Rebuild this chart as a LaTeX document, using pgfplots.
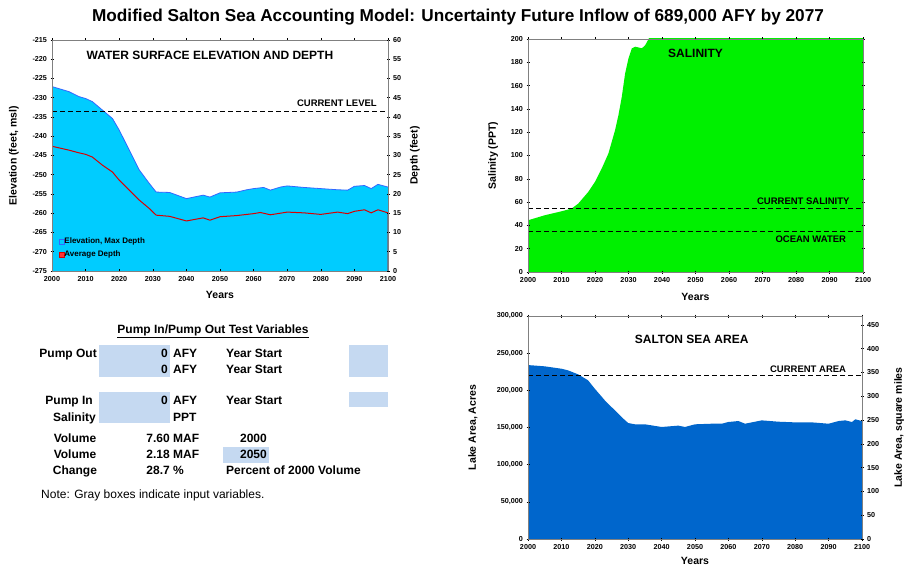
\documentclass[border=0pt]{standalone}
\usepackage{pgfplots}
\pgfplotsset{compat=1.18}
\usepackage{fontspec}
\setmainfont{Liberation Sans}
\definecolor{cyanfill}{RGB}{0,204,255}
\definecolor{edgeblue}{RGB}{51,102,255}
\definecolor{areablue}{RGB}{0,102,204}
\definecolor{salgreen}{RGB}{0,240,0}
\definecolor{inbox}{RGB}{197,217,241}
\definecolor{framegray}{RGB}{128,128,128}
\pgfplotsset{
  base/.style={
    scale only axis, anchor=south west, axis on top,
    xmin=2000, xmax=2100, xtick={2000,2010,...,2100},
    axis line style={draw=framegray, line width=0.8pt},
    tick style={draw=black, line width=0.5pt}, major tick length=3pt, tick align=center,
    tick label style={font=\fontsize{7.2}{8}\selectfont\bfseries},
    label style={font=\fontsize{10.5}{12}\selectfont\bfseries},
    /pgf/number format/assume math mode=true,
    xticklabel style={/pgf/number format/fixed, /pgf/number format/1000 sep={}},
    yticklabel style={/pgf/number format/fixed},
    scaled ticks=false,
  },
  dline/.style={black, line width=0.9pt, dash pattern=on 5pt off 3pt},
}
\begin{document}
\begin{tikzpicture}
\path[use as bounding box, fill=white] (0pt,0pt) rectangle (910pt,-569pt);
\node[font=\fontsize{17.2}{20}\selectfont\bfseries] at (458pt,-17pt) {Modified Salton Sea Accounting Model: Uncertainty Future Inflow of 689,000 AFY by 2077};

% ---------------- Elevation / depth ----------------
\begin{axis}[base, at={(52pt,-271pt)}, width=336pt, height=231pt,
  ymin=-275, ymax=-215, ytick={-275,-270,...,-215},
  axis y line*=left, 
  ylabel={Elevation (feet, msl)}, xlabel={Years},
  ylabel style={at={(axis description cs:-0.113,0.5)}, anchor=center},
  xlabel style={at={(axis description cs:0.5,-0.104)}, anchor=center},
  legend image code/.code={\draw[#1] (0pt,-2.5pt) rectangle (5pt,2.5pt);},
  legend style={at={(axis description cs:0.01,0.155)}, anchor=north west, draw=none, fill=none,
    font=\fontsize{8}{9}\selectfont\bfseries, nodes={inner sep=0.5pt}},
  legend style={/tikz/every even column/.append style={column sep=0pt}},
  legend style={row sep=5pt},
  legend cell align=left,
]
\addplot[fill=cyanfill, draw=none, forget plot] coordinates {
(2000,-275) (2000,-227.1) (2005,-228.4) (2008,-229.7) (2010,-230.2) (2012,-231.0) (2015,-233.2)
(2018,-235.4) (2020,-238.4) (2023,-243.6) (2026,-248.8) (2029,-252.3) (2031,-254.5) (2035,-254.6)
(2040,-256.2) (2045,-255.3) (2047,-255.8) (2050,-254.7) (2055,-254.5) (2058,-253.9) (2060,-253.6)
(2063,-253.3) (2065,-254.0) (2068,-253.2) (2070,-252.9) (2075,-253.3) (2080,-253.6) (2085,-253.9)
(2088,-254.0) (2090,-253.0) (2093,-252.8) (2095,-253.6) (2097,-252.5) (2100,-253.2) (2100,-275)} -- cycle;
\addplot[edgeblue, line width=0.8pt, forget plot] coordinates {
(2000,-227.1) (2005,-228.4) (2008,-229.7) (2010,-230.2) (2012,-231.0) (2015,-233.2)
(2018,-235.4) (2020,-238.4) (2023,-243.6) (2026,-248.8) (2029,-252.3) (2031,-254.5) (2035,-254.6)
(2040,-256.2) (2045,-255.3) (2047,-255.8) (2050,-254.7) (2055,-254.5) (2058,-253.9) (2060,-253.6)
(2063,-253.3) (2065,-254.0) (2068,-253.2) (2070,-252.9) (2075,-253.3) (2080,-253.6) (2085,-253.9)
(2088,-254.0) (2090,-253.0) (2093,-252.8) (2095,-253.6) (2097,-252.5) (2100,-253.2)};
\addplot[red!85!black, line width=1pt, forget plot] coordinates {
(2000,-242.6) (2005,-243.6) (2008,-244.3) (2010,-244.7) (2012,-245.4) (2015,-247.5) (2018,-249.3)
(2020,-251.4) (2023,-254.0) (2026,-256.6) (2029,-258.8) (2031,-260.5) (2035,-260.8) (2040,-262.0)
(2045,-261.2) (2047,-261.8) (2050,-260.9) (2055,-260.6) (2060,-260.1) (2062,-259.8) (2065,-260.4)
(2070,-259.7) (2075,-259.9) (2080,-260.3) (2085,-259.7) (2088,-260.1) (2090,-259.5) (2093,-259.1)
(2095,-259.9) (2097,-259.1) (2100,-259.9) (2100,-275)};
\addplot[dline, forget plot] coordinates {(2000,-233.6) (2100,-233.6)};
\addlegendimage{fill=cyanfill, draw=edgeblue}
\addlegendentry{Elevation, Max Depth}
\addlegendimage{fill=red!80, draw=red!85!black}
\addlegendentry{Average Depth}
\node[anchor=base east, font=\fontsize{9.5}{11}\selectfont\bfseries] at (axis cs:2097.7,-232.2) {CURRENT LEVEL};
\node[font=\fontsize{12}{14}\selectfont\bfseries] at (axis cs:2047,-218.9) {WATER SURFACE ELEVATION AND DEPTH};
\end{axis}
\begin{axis}[base, at={(52pt,-271pt)}, width=336pt, height=231pt,
  axis y line*=right, axis x line=none,
  ymin=0, ymax=60, ytick={0,5,...,60},
  ylabel={Depth (feet)},
  ylabel style={at={(axis description cs:1.08,0.5)}, anchor=center, rotate=0},
]
\addplot[draw=none] coordinates {(2000,0)};
\end{axis}

% ---------------- Salinity ----------------
\begin{axis}[base, at={(528pt,-272pt)}, width=335pt, height=233pt,
  ymin=0, ymax=200, ytick={0,20,...,200},
  ylabel={Salinity (PPT)}, xlabel={Years},
  ylabel style={at={(axis description cs:-0.104,0.5)}, anchor=center},
  xlabel style={at={(axis description cs:0.5,-0.107)}, anchor=center},
]
\addplot[fill=salgreen, draw=none] coordinates {
(2000,0) (2000,44.4) (2005,48.7) (2010,52.1) (2013,54.4) (2015,58.7) (2018,68.8) (2020,77.4)
(2022,88.8) (2024,101.7) (2026,121.8) (2027,134.7) (2028,150.4) (2029,170.5) (2030,183.4)
(2031,192.0) (2032,193.4) (2034,192.0) (2035,194.8) (2036,200) (2040,230) (2050,260)
(2060,280) (2070,295) (2080,305) (2090,315) (2100,325) (2100,0)} -- cycle;
\addplot[dline] coordinates {(2000,54.4) (2100,54.4)};
\addplot[dline] coordinates {(2000,35) (2100,35)};
\node[anchor=base east, font=\fontsize{9.5}{11}\selectfont\bfseries] at (axis cs:2097,58.2) {CURRENT SALINITY};
\node[anchor=base east, font=\fontsize{9.5}{11}\selectfont\bfseries] at (axis cs:2096,25.2) {OCEAN WATER};
\node[font=\fontsize{12}{14}\selectfont\bfseries] at (axis cs:2050,187.7) {SALINITY};
\end{axis}

% ---------------- Area ----------------
\begin{axis}[base, at={(528pt,-539pt)}, width=334pt, height=223pt,
  ymin=0, ymax=300000, ytick={0,50000,100000,150000,200000,250000,300000},
  axis y line*=left,
  yticklabel style={/pgf/number format/fixed, /pgf/number format/1000 sep={,}},
  ylabel={Lake Area, Acres}, xlabel={Years},
  ylabel style={at={(axis description cs:-0.165,0.5)}, anchor=center},
  xlabel style={at={(axis description cs:0.5,-0.097)}, anchor=center},
]
\addplot[fill=areablue, draw=none] coordinates {
(2000,0) (2000,234000) (2005,232300) (2010,229100) (2012,226900) (2015,221500) (2018,213400)
(2020,202200) (2023,186500) (2026,173100) (2028,164100) (2030,156000) (2032,154300) (2035,154300)
(2040,150700) (2045,152500) (2047,150700) (2050,154300) (2055,155100) (2058,155100) (2060,157400)
(2063,158700) (2065,155100) (2070,159600) (2075,157800) (2080,156900) (2085,156900) (2090,155100)
(2093,158700) (2095,159600) (2097,157400) (2098,161000) (2100,158700) (2100,0)} -- cycle;
\addplot[dline] coordinates {(2000,220000) (2100,220000)};
\node[anchor=base east, font=\fontsize{9.5}{11}\selectfont\bfseries] at (axis cs:2096.3,224650) {CURRENT AREA};
\node[font=\fontsize{12}{14}\selectfont\bfseries] at (axis cs:2049,268150) {SALTON SEA AREA};
\end{axis}
\begin{axis}[base, at={(528pt,-539pt)}, width=334pt, height=223pt,
  axis y line*=right, axis x line=none,
  ymin=0, ymax=468.75, ytick={0,50,...,450},
  ylabel={Lake Area, square miles},
  ylabel style={at={(axis description cs:1.111,0.5)}, anchor=center, rotate=0},
]
\addplot[draw=none] coordinates {(2000,0)};
\end{axis}

% ---------------- Table ----------------
\fill[inbox] (99pt,-345pt) rectangle (170pt,-377pt);
\fill[inbox] (349pt,-345pt) rectangle (388pt,-377pt);
\fill[inbox] (99pt,-392pt) rectangle (170pt,-423pt);
\fill[inbox] (349pt,-392pt) rectangle (388pt,-407pt);
\fill[inbox] (223pt,-447pt) rectangle (269pt,-463pt);
\begin{scope}[every node/.style={font=\fontsize{12}{14}\selectfont\bfseries, inner sep=0pt}]
\node[anchor=base] at (213pt,-333pt) {\underline{Pump In/Pump Out Test Variables}};
\node[anchor=base east] at (97pt,-357pt) {Pump Out};
\node[anchor=base east] at (168pt,-357pt) {0};
\node[anchor=base west] at (173pt,-357pt) {AFY};
\node[anchor=base west] at (226pt,-357pt) {Year Start};
\node[anchor=base east] at (168pt,-373pt) {0};
\node[anchor=base west] at (173pt,-373pt) {AFY};
\node[anchor=base west] at (226pt,-373pt) {Year Start};
\node[anchor=base east] at (93pt,-404pt) {Pump In};
\node[anchor=base east] at (168pt,-404pt) {0};
\node[anchor=base west] at (173pt,-404pt) {AFY};
\node[anchor=base west] at (226pt,-404pt) {Year Start};
\node[anchor=base east] at (96pt,-421pt) {Salinity};
\node[anchor=base west] at (173pt,-421pt) {PPT};
\node[anchor=base] at (75pt,-442pt) {Volume};
\node[anchor=base east] at (170pt,-442pt) {7.60};
\node[anchor=base west] at (173pt,-442pt) {MAF};
\node[anchor=base east] at (267pt,-442pt) {2000};
\node[anchor=base] at (75pt,-458pt) {Volume};
\node[anchor=base east] at (170pt,-458pt) {2.18};
\node[anchor=base west] at (173pt,-458pt) {MAF};
\node[anchor=base east] at (267pt,-458pt) {2050};
\node[anchor=base] at (75pt,-474pt) {Change};
\node[anchor=base east] at (170pt,-474pt) {28.7};
\node[anchor=base west] at (173pt,-474pt) {\%};
\node[anchor=base west] at (226pt,-474pt) {Percent of 2000 Volume};
\node[anchor=base west, font=\fontsize{12}{14}\selectfont] at (41pt,-498pt) {Note: Gray boxes indicate input variables.};
\end{scope}
\end{tikzpicture}
\end{document}
